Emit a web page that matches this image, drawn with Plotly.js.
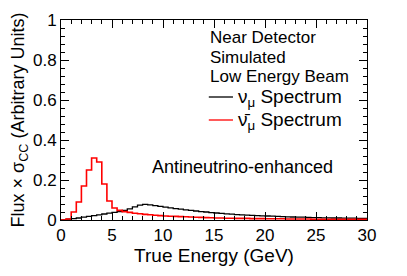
<!DOCTYPE html>
<html>
<head>
<meta charset="utf-8">
<script src="https://cdn.plot.ly/plotly-3.0.1.min.js"></script>
<style>html,body{margin:0;padding:0;background:#fff;}#chart{width:407px;height:276px;}</style>
</head>
<body>
<div id="chart"></div>
<script>
// Histogram bin width (GeV) and first edge
const binWidth = 0.5;
const binStart = 0;

// nu_mu spectrum (black), 0.5 GeV bins from 0 to 30 GeV
const numuValues = [
  0.001, 0.004, 0.007, 0.010, 0.014, 0.018, 0.022, 0.026, 0.030, 0.034,
  0.038, 0.042, 0.048, 0.056, 0.066, 0.074, 0.078, 0.076, 0.072, 0.068,
  0.064, 0.061, 0.057, 0.054, 0.051, 0.048, 0.045, 0.042, 0.040, 0.037,
  0.035, 0.033, 0.031, 0.029, 0.027, 0.026, 0.024, 0.023, 0.022, 0.021,
  0.020, 0.019, 0.018, 0.017, 0.016, 0.015, 0.014, 0.014, 0.013, 0.012,
  0.012, 0.011, 0.011, 0.010, 0.010, 0.009, 0.009, 0.009, 0.008, 0.008
];

// anti-nu_mu spectrum (red), 0.5 GeV bins from 0 to 30 GeV
const numubarValues = [
  0.000, 0.005, 0.040, 0.090, 0.170, 0.250, 0.310, 0.290, 0.180, 0.095,
  0.060, 0.048, 0.042, 0.038, 0.034, 0.031, 0.028, 0.026, 0.024, 0.022,
  0.020, 0.019, 0.018, 0.017, 0.016, 0.015, 0.014, 0.013, 0.012, 0.011,
  0.010, 0.010, 0.009, 0.009, 0.008, 0.008, 0.008, 0.007, 0.007, 0.007,
  0.006, 0.006, 0.006, 0.006, 0.005, 0.005, 0.005, 0.005, 0.005, 0.004,
  0.004, 0.004, 0.004, 0.004, 0.004, 0.004, 0.003, 0.003, 0.003, 0.003
];

const xTickVals = [0, 5, 10, 15, 20, 25, 30];
const yTickVals = [0, 0.2, 0.4, 0.6, 0.8, 1];
const yTickText = ['0', '0.2', '0.4', '0.6', '0.8', '1'];

const infoLines = ['Near Detector', 'Simulated', 'Low Energy Beam'];
const legendLabels = ['ν<sub>μ</sub> Spectrum', 'ν̄<sub>μ</sub> Spectrum'];
const legendColors = ['#000000', '#ff0000'];
const noteText = 'Antineutrino-enhanced';

function stepTrace(vals, color, width) {
  const xs = [], ys = [];
  for (let i = 0; i < vals.length; i++) {
    xs.push(binStart + i * binWidth);
    ys.push(vals[i]);
  }
  xs.push(binStart + vals.length * binWidth);
  ys.push(vals[vals.length - 1]);
  return {x: xs, y: ys, type: 'scatter', mode: 'lines',
          line: {shape: 'hv', color: color, width: width}, hoverinfo: 'skip', showlegend: false};
}

const font = 'Liberation Sans, Arial, Helvetica, sans-serif';

const data = [
  stepTrace(numuValues, legendColors[0], 1.3),
  stepTrace(numubarValues, legendColors[1], 1.6)
];

const annotations = [];
const shapes = [];
const rowY = [0.91, 0.815, 0.72, 0.61, 0.495];
infoLines.forEach((t, i) => {
  annotations.push({text: t, xref: 'paper', yref: 'paper', x: 0.48, y: rowY[i],
    xanchor: 'left', yanchor: 'middle', showarrow: false, font: {family: font, size: 17, color: '#000'}});
});
legendLabels.forEach((t, i) => {
  annotations.push({text: t, xref: 'paper', yref: 'paper', x: 0.572, y: rowY[3 + i],
    xanchor: 'left', yanchor: 'middle', showarrow: false, font: {family: font, size: 19, color: '#000'}});
  shapes.push({type: 'line', xref: 'paper', yref: 'paper', x0: 0.483, x1: 0.562,
    y0: rowY[3 + i] + 0.005, y1: rowY[3 + i] + 0.005, line: {color: legendColors[i], width: 1.3}});
});
annotations.push({text: noteText, xref: 'paper', yref: 'paper', x: 0.29, y: 0.265,
  xanchor: 'left', yanchor: 'middle', showarrow: false, font: {family: font, size: 18, color: '#000'}});

const layout = {
  width: 407, height: 276,
  margin: {l: 61, r: 40, t: 20, b: 56},
  paper_bgcolor: '#fff', plot_bgcolor: '#fff',
  font: {family: font, size: 14, color: '#000'},
  showlegend: false,
  xaxis: {
    range: [0, 30], tickvals: xTickVals, ticks: 'inside', ticklen: 8, tickwidth: 1,
    tickcolor: '#000', showline: true, linecolor: '#000', linewidth: 1, mirror: 'allticks',
    showgrid: false, zeroline: false, tickfont: {family: font, size: 17},
    minor: {dtick: 1, ticks: 'inside', ticklen: 4, tickcolor: '#000', showgrid: false},
    title: {text: 'True Energy (GeV)', font: {family: font, size: 19}, standoff: 2}
  },
  yaxis: {
    range: [0, 1], tickvals: yTickVals, ticktext: yTickText, ticks: 'inside', ticklen: 8, tickwidth: 1,
    tickcolor: '#000', showline: true, linecolor: '#000', linewidth: 1, mirror: 'allticks',
    showgrid: false, zeroline: false, tickfont: {family: font, size: 17},
    minor: {dtick: 0.04, ticks: 'inside', ticklen: 4, tickcolor: '#000', showgrid: false},
    title: {text: 'Flux × σ<sub>CC</sub> (Arbitrary Units)', font: {family: font, size: 18}, standoff: 3}
  },
  annotations: annotations,
  shapes: shapes
};

Plotly.newPlot('chart', data, layout, {staticPlot: true, displayModeBar: false});
</script>
</body>
</html>
